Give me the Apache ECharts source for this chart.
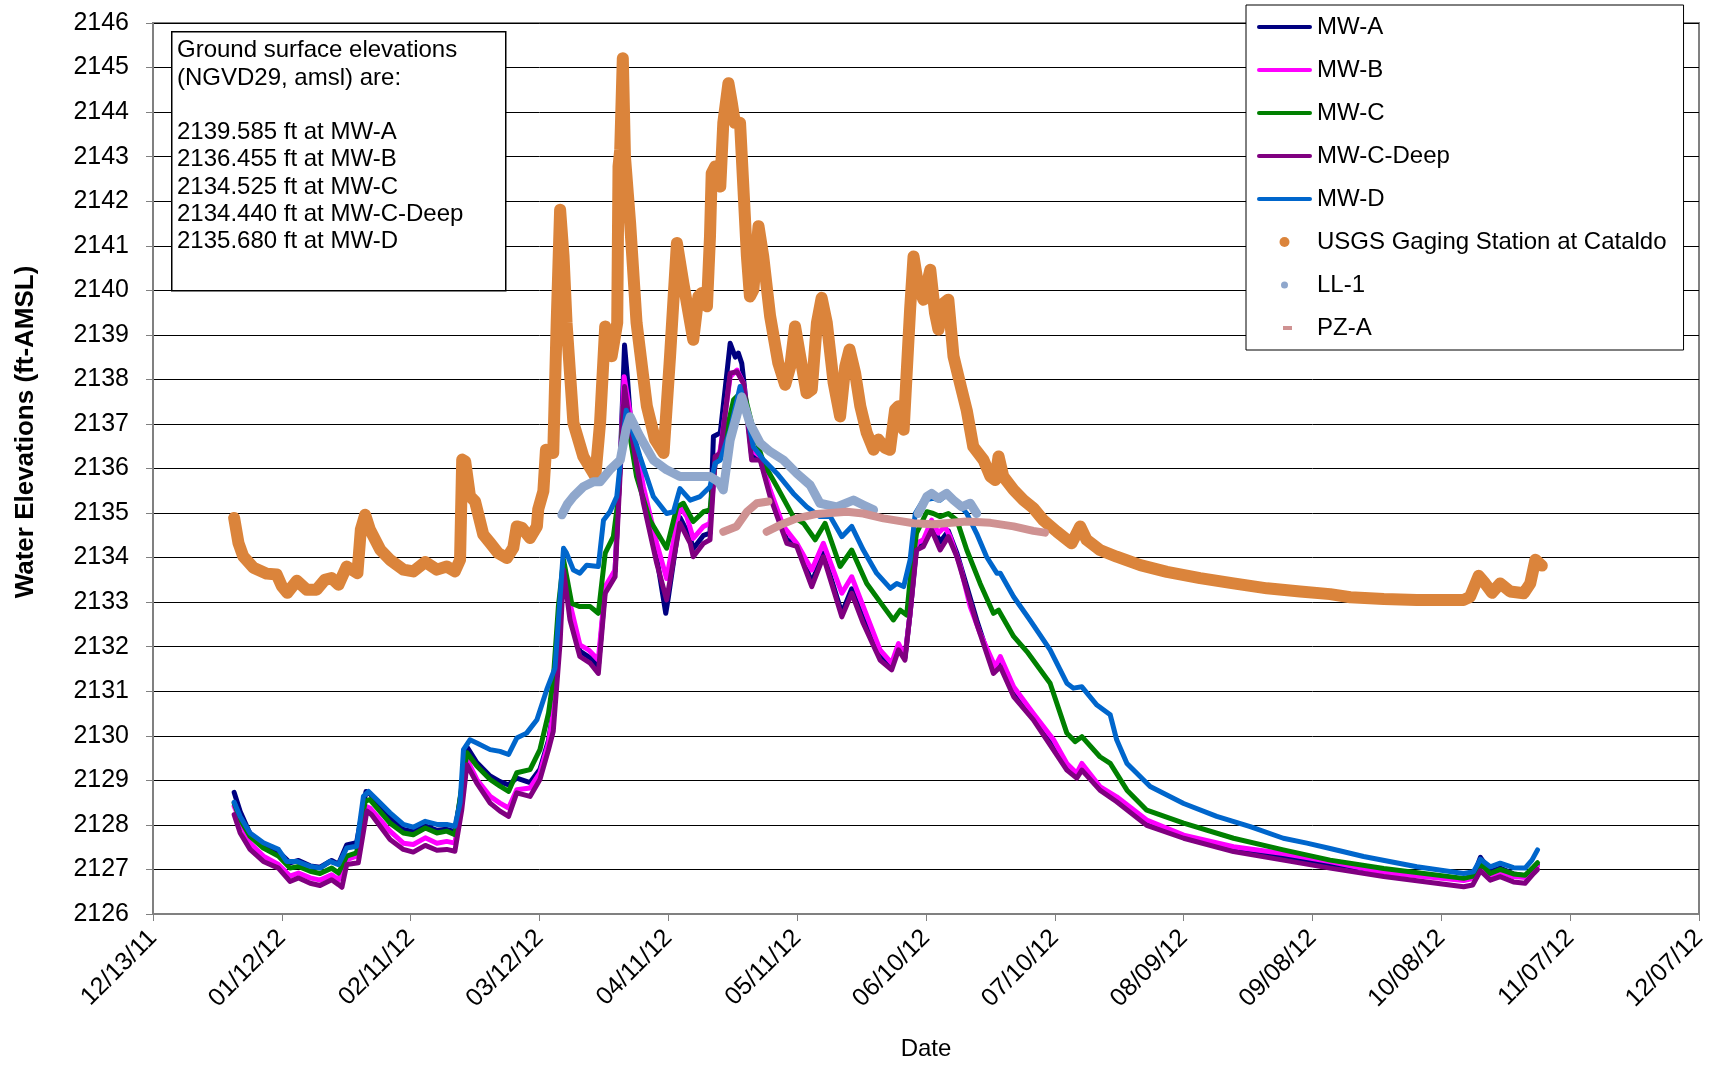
<!DOCTYPE html>
<html>
<head>
<meta charset="utf-8">
<script src="https://cdn.jsdelivr.net/npm/echarts@6/dist/echarts.min.js"></script>
<style>
html,body{margin:0;padding:0;background:#fff;}
#chart{width:1716px;height:1065px;}
</style>
</head>
<body>
<div id="chart"></div>
<script>
// Dates are spreadsheet date serials (40890 = 12/13/11)
const X_MIN = 40890, X_MAX = 41250, X_STEP = 30;
const Y_MIN = 2126, Y_MAX = 2146, Y_STEP = 1;

const SERIES_NAMES = ['MW-A','MW-B','MW-C','MW-C-Deep','MW-D','USGS Gaging Station at Cataldo','LL-1','PZ-A'];
const WELLS = ['MW-A','MW-B','MW-C','MW-C-Deep','MW-D'];
const GROUND_ELEV = ['2139.585','2136.455','2134.525','2134.440','2135.680'];

const MW_A = [[40908.9,2128.73],[40910.3,2128.30],[40912.6,2127.80],[40915.7,2127.55],[40919.2,2127.40],[40921.9,2127.15],[40923.9,2127.20],[40926.6,2127.08],[40928.9,2127.05],[40931.6,2127.20],[40933.2,2127.12],[40935.1,2127.55],[40937.4,2127.60],[40939.6,2128.75],[40940.5,2128.70],[40945.2,2128.15],[40948.3,2127.90],[40950.6,2127.85],[40953.4,2127.98],[40956.1,2127.88],[40958.4,2127.90],[40960.3,2127.85],[40961.9,2128.80],[40963.1,2129.75],[40965.4,2129.40],[40968.5,2129.10],[40970.8,2128.97],[40972.8,2128.90],[40974.7,2129.05],[40977.8,2128.95],[40980.1,2129.25],[40982.1,2129.90],[40983.2,2130.55],[40984.6,2132.30],[40985.6,2133.80],[40987.1,2132.80],[40989.4,2131.90],[40991.8,2131.75],[40993.7,2131.55],[40995.3,2133.30],[40997.6,2133.70],[40998.9,2136.40],[40999.8,2138.77],[41000.5,2138.00],[41001.1,2137.20],[41004.2,2135.40],[41007.3,2134.00],[41009.4,2132.75],[41010.0,2133.10],[41012.7,2134.90],[41015.1,2134.45],[41015.8,2134.20],[41018.2,2134.50],[41019.7,2134.55],[41020.5,2136.72],[41022.1,2136.80],[41024.4,2138.81],[41025.6,2138.50],[41026.3,2138.59],[41027.1,2138.36],[41028.0,2137.60],[41029.4,2136.30],[41031.4,2136.22],[41033.7,2135.45],[41037.6,2134.40],[41039.9,2134.30],[41043.4,2133.45],[41046.1,2134.10],[41050.4,2132.75],[41052.7,2133.30],[41055.4,2132.62],[41059.3,2131.80],[41062.0,2131.55],[41063.6,2132.00],[41065.1,2131.75],[41066.3,2132.75],[41067.8,2134.25],[41069.4,2134.35],[41071.3,2134.75],[41073.3,2134.35],[41075.2,2134.60],[41077.2,2134.10],[41079.5,2133.35],[41081.8,2132.60],[41085.7,2131.45],[41087.3,2131.65],[41090.4,2130.95],[41095.0,2130.40],[41099.7,2129.75],[41102.8,2129.30],[41105.1,2129.10],[41106.3,2129.30],[41110.5,2128.82],[41114.4,2128.56],[41121.4,2128.05],[41130.0,2127.73],[41141.6,2127.45],[41153.2,2127.30],[41164.1,2127.12],[41176.6,2126.96],[41195.2,2126.78],[41197.5,2126.85],[41199.1,2127.27],[41201.4,2126.95],[41203.7,2127.03],[41206.8,2126.90],[41209.5,2126.86],[41211.5,2127.02],[41212.4,2127.10]];

const MW_B = [[40908.9,2128.42],[40912.6,2127.59],[40915.7,2127.30],[40919.2,2127.11],[40921.9,2126.85],[40923.9,2126.92],[40926.6,2126.81],[40928.9,2126.76],[40931.6,2126.88],[40933.2,2126.77],[40935.1,2127.22],[40937.4,2127.30],[40939.4,2128.42],[40940.5,2128.38],[40945.2,2127.86],[40948.3,2127.59],[40950.6,2127.56],[40953.4,2127.71],[40956.1,2127.59],[40958.4,2127.63],[40960.3,2127.59],[40961.9,2128.49],[40963.1,2129.47],[40965.4,2129.02],[40968.5,2128.64],[40970.8,2128.49],[40972.8,2128.38],[40974.7,2128.79],[40977.8,2128.83],[40980.1,2129.17],[40982.1,2129.84],[40983.2,2130.51],[40984.4,2132.00],[40985.6,2133.87],[40987.1,2132.97],[40989.4,2132.04],[40991.4,2131.93],[40993.7,2131.70],[40995.3,2133.35],[40997.6,2133.72],[40998.8,2136.12],[40999.7,2138.06],[41001.1,2137.24],[41004.2,2135.59],[41007.3,2134.32],[41009.6,2133.53],[41012.7,2135.14],[41014.3,2134.92],[41015.8,2134.43],[41018.2,2134.70],[41019.7,2134.77],[41020.9,2136.12],[41022.1,2136.42],[41024.4,2138.06],[41026.0,2138.21],[41027.5,2137.91],[41029.4,2136.42],[41031.4,2136.27],[41033.7,2135.52],[41036.8,2134.70],[41039.9,2134.32],[41043.4,2133.72],[41046.1,2134.32],[41050.4,2133.20],[41052.7,2133.57],[41055.4,2132.90],[41059.3,2131.93],[41062.0,2131.63],[41063.6,2132.07],[41065.1,2131.78],[41066.3,2132.75],[41067.8,2134.32],[41069.4,2134.40],[41071.3,2134.84],[41072.9,2134.55],[41074.4,2134.70],[41075.6,2134.47],[41078.0,2133.80],[41080.3,2132.90],[41082.6,2132.30],[41086.1,2131.55],[41087.3,2131.78],[41090.4,2131.10],[41095.0,2130.50],[41099.7,2129.91],[41102.8,2129.38],[41105.1,2129.16],[41106.3,2129.38],[41110.5,2128.86],[41114.4,2128.63],[41121.4,2128.11],[41130.0,2127.77],[41141.6,2127.51],[41153.2,2127.36],[41164.1,2127.18],[41176.6,2126.93],[41195.2,2126.75],[41197.5,2126.80],[41199.3,2127.05],[41201.4,2126.86],[41203.7,2126.95],[41206.8,2126.84],[41209.5,2126.82],[41211.5,2127.00],[41212.4,2127.08]];

const MW_C = [[40908.9,2128.49],[40910.3,2128.12],[40912.6,2127.74],[40915.7,2127.48],[40919.2,2127.30],[40921.9,2127.03],[40923.9,2127.07],[40926.6,2126.96],[40928.9,2126.91],[40931.6,2127.03],[40933.2,2126.92],[40935.1,2127.30],[40937.4,2127.37],[40939.4,2128.53],[40940.5,2128.57],[40945.2,2128.04],[40948.3,2127.82],[40950.6,2127.78],[40953.4,2127.93],[40956.1,2127.82],[40958.4,2127.86],[40960.3,2127.78],[40961.9,2128.87],[40963.1,2129.62],[40965.4,2129.32],[40968.5,2129.02],[40970.8,2128.87],[40972.8,2128.75],[40974.7,2129.17],[40977.8,2129.24],[40980.1,2129.69],[40982.1,2130.51],[40983.2,2131.26],[40984.4,2132.91],[40985.6,2133.95],[40987.5,2132.97],[40989.4,2132.90],[40991.8,2132.90],[40993.7,2132.75],[40995.3,2134.10],[40997.2,2134.47],[40998.4,2135.37],[40999.5,2137.39],[41000.7,2136.94],[41002.6,2135.82],[41005.7,2134.84],[41009.6,2134.21],[41012.0,2135.14],[41013.5,2135.22],[41015.8,2134.81],[41018.2,2135.03],[41019.7,2135.07],[41020.9,2136.12],[41022.4,2136.34],[41025.2,2137.54],[41027.5,2137.76],[41029.8,2136.86],[41032.2,2136.12],[41035.3,2135.59],[41039.1,2134.92],[41041.5,2134.77],[41044.2,2134.40],[41046.5,2134.77],[41050.0,2133.80],[41052.7,2134.17],[41056.2,2133.42],[41060.1,2132.90],[41062.4,2132.60],[41064.0,2132.82],[41065.5,2132.71],[41066.3,2133.50],[41067.8,2134.55],[41070.2,2135.03],[41071.7,2134.99],[41073.3,2134.92],[41075.2,2134.99],[41077.2,2134.84],[41079.5,2134.17],[41082.6,2133.42],[41085.7,2132.75],[41086.9,2132.82],[41090.4,2132.23],[41093.5,2131.89],[41098.9,2131.18],[41102.8,2130.06],[41104.7,2129.87],[41106.3,2129.98],[41110.5,2129.53],[41112.9,2129.38],[41116.8,2128.78],[41121.4,2128.33],[41130.0,2128.04],[41141.6,2127.70],[41153.2,2127.44],[41164.1,2127.21],[41176.6,2127.02],[41195.2,2126.80],[41197.5,2126.85],[41199.5,2127.10],[41201.4,2126.91],[41203.7,2127.00],[41206.8,2126.90],[41209.5,2126.87],[41211.5,2127.06],[41212.4,2127.15]];

const MW_C_DEEP = [[40908.9,2128.23],[40910.3,2127.82],[40912.6,2127.45],[40915.7,2127.18],[40919.2,2127.03],[40921.9,2126.73],[40923.9,2126.81],[40926.6,2126.69],[40928.9,2126.64],[40931.6,2126.77],[40933.2,2126.66],[40934.0,2126.60],[40935.1,2127.11],[40937.8,2127.15],[40939.8,2128.31],[40940.9,2128.23],[40945.2,2127.67],[40948.3,2127.45],[40950.6,2127.39],[40953.4,2127.54],[40956.1,2127.43],[40958.4,2127.45],[40960.3,2127.41],[40961.9,2128.34],[40963.1,2129.35],[40965.4,2128.94],[40968.5,2128.49],[40970.8,2128.31],[40972.8,2128.19],[40974.7,2128.72],[40977.8,2128.64],[40980.1,2129.02],[40982.1,2129.69],[40983.2,2130.10],[40984.8,2132.10],[40985.6,2133.72],[40987.1,2132.60],[40989.4,2131.78],[40991.8,2131.63],[40993.7,2131.40],[40995.3,2133.20],[40997.6,2133.57],[40998.9,2136.12],[40999.8,2137.84],[41001.1,2136.94],[41004.2,2135.22],[41007.3,2133.87],[41009.6,2133.05],[41012.7,2134.77],[41015.1,2134.32],[41015.8,2134.02],[41018.2,2134.32],[41019.7,2134.40],[41020.9,2136.27],[41022.1,2136.34],[41024.4,2138.14],[41026.0,2138.17],[41027.5,2137.91],[41029.4,2136.19],[41031.4,2136.19],[41033.7,2135.37],[41037.6,2134.32],[41039.9,2134.25],[41043.4,2133.35],[41046.1,2134.02],[41050.4,2132.67],[41052.7,2133.20],[41055.4,2132.52],[41059.3,2131.70],[41062.0,2131.48],[41063.6,2131.93],[41065.1,2131.70],[41066.3,2132.75],[41067.8,2134.17],[41069.4,2134.25],[41071.3,2134.62],[41073.3,2134.17],[41075.2,2134.47],[41077.2,2134.02],[41079.5,2133.27],[41081.8,2132.52],[41085.7,2131.40],[41087.3,2131.55],[41090.4,2130.88],[41095.0,2130.36],[41099.7,2129.68],[41102.8,2129.23],[41105.1,2129.05],[41106.3,2129.23],[41110.5,2128.78],[41114.4,2128.52],[41121.4,2127.99],[41130.0,2127.70],[41141.6,2127.40],[41153.2,2127.21],[41164.1,2127.03],[41176.6,2126.84],[41195.2,2126.61],[41197.3,2126.65],[41199.1,2126.97],[41201.4,2126.76],[41203.7,2126.84],[41206.8,2126.72],[41209.5,2126.69],[41211.5,2126.91],[41212.4,2127.00]];

const MW_D = [[40908.9,2128.51],[40910.3,2128.19],[40912.6,2127.82],[40915.7,2127.60],[40919.2,2127.45],[40921.1,2127.18],[40923.5,2127.18],[40926.6,2127.07],[40928.9,2127.03],[40931.2,2127.18],[40933.2,2127.11],[40935.1,2127.48],[40937.4,2127.52],[40939.0,2128.64],[40940.2,2128.75],[40942.1,2128.57],[40945.2,2128.27],[40948.3,2128.01],[40950.6,2127.95],[40953.4,2128.08],[40956.1,2128.01],[40958.4,2128.01],[40960.3,2127.97],[40961.5,2128.49],[40962.3,2129.69],[40963.8,2129.91],[40965.4,2129.84],[40968.5,2129.69],[40970.8,2129.65],[40972.8,2129.58],[40974.7,2129.95],[40977.0,2130.06],[40979.4,2130.36],[40981.7,2131.04],[40983.6,2131.52],[40984.8,2133.12],[40985.6,2134.21],[40986.3,2134.10],[40987.9,2133.72],[40989.4,2133.65],[40991.0,2133.83],[40993.7,2133.80],[40994.9,2134.84],[40996.4,2135.03],[40998.0,2135.37],[40999.2,2136.49],[41000.2,2137.31],[41001.1,2137.01],[41003.4,2136.27],[41006.5,2135.37],[41009.6,2134.99],[41011.2,2135.03],[41012.7,2135.55],[41015.1,2135.29],[41017.4,2135.37],[41019.7,2135.59],[41020.9,2136.12],[41022.1,2136.19],[41024.4,2136.86],[41026.7,2137.84],[41027.9,2137.39],[41029.8,2136.49],[41032.2,2136.19],[41035.3,2135.89],[41039.1,2135.44],[41042.2,2135.14],[41045.3,2134.92],[41047.7,2134.92],[41050.4,2134.47],[41052.7,2134.70],[41055.4,2134.17],[41058.5,2133.65],[41061.7,2133.31],[41063.2,2133.42],[41064.8,2133.35],[41066.3,2133.95],[41067.5,2134.99],[41069.4,2135.29],[41071.7,2135.33],[41073.3,2135.29],[41075.2,2135.44],[41077.5,2135.22],[41079.5,2134.99],[41081.8,2134.54],[41084.1,2134.02],[41086.5,2133.65],[41087.3,2133.65],[41090.4,2133.12],[41094.2,2132.60],[41098.9,2131.93],[41102.8,2131.18],[41104.3,2131.07],[41106.3,2131.10],[41109.8,2130.69],[41112.9,2130.47],[41114.4,2129.91],[41116.8,2129.38],[41122.2,2128.86],[41130.0,2128.48],[41137.7,2128.19],[41145.5,2127.96],[41153.2,2127.70],[41158.7,2127.59],[41164.1,2127.47],[41171.9,2127.29],[41184.3,2127.06],[41195.2,2126.91],[41197.5,2126.95],[41199.1,2127.23],[41201.4,2127.06],[41203.7,2127.14],[41206.8,2127.04],[41209.5,2127.03],[41211.1,2127.21],[41212.4,2127.44]];

const USGS = [[40908.9,2134.89],[40909.9,2134.33],[40911.0,2134.03],[40913.4,2133.77],[40916.5,2133.64],[40918.8,2133.62],[40920.0,2133.36],[40921.3,2133.21],[40923.5,2133.48],[40925.8,2133.28],[40928.1,2133.28],[40930.0,2133.50],[40931.6,2133.54],[40933.2,2133.39],[40935.1,2133.80],[40937.6,2133.65],[40938.4,2134.63],[40939.4,2134.96],[40940.5,2134.63],[40942.9,2134.18],[40945.2,2133.95],[40948.3,2133.73],[40950.6,2133.69],[40953.4,2133.90],[40956.1,2133.73],[40958.4,2133.80],[40960.3,2133.69],[40961.5,2133.95],[40962.0,2136.20],[40962.7,2136.16],[40963.8,2135.38],[40965.0,2135.26],[40966.9,2134.52],[40968.5,2134.33],[40970.4,2134.10],[40972.4,2133.99],[40973.9,2134.22],[40974.7,2134.70],[40975.9,2134.67],[40977.8,2134.44],[40979.4,2134.70],[40979.7,2135.08],[40980.9,2135.49],[40981.5,2136.42],[40983.2,2136.35],[40984.0,2139.27],[40984.8,2141.81],[40985.6,2140.76],[40986.3,2139.27],[40987.9,2137.02],[40990.2,2136.27],[40993.0,2135.82],[40994.1,2137.02],[40995.3,2139.19],[40996.8,2138.52],[40998.1,2139.27],[40998.4,2142.78],[40998.8,2143.16],[40999.4,2145.21],[40999.9,2143.00],[41001.1,2141.51],[41002.6,2139.27],[41005.0,2137.40],[41006.9,2136.65],[41008.9,2136.35],[41010.4,2138.52],[41012.0,2141.06],[41013.5,2140.16],[41015.8,2138.89],[41017.0,2139.86],[41017.8,2139.94],[41019.0,2139.64],[41019.7,2141.21],[41020.1,2142.63],[41020.9,2142.78],[41022.1,2142.33],[41022.8,2143.76],[41024.0,2144.65],[41024.8,2144.20],[41025.5,2143.76],[41026.7,2143.76],[41027.5,2142.26],[41028.3,2140.76],[41029.0,2139.86],[41029.8,2140.01],[41031.0,2141.44],[41032.1,2140.76],[41033.7,2139.42],[41035.6,2138.37],[41037.2,2137.88],[41038.4,2138.29],[41039.5,2139.19],[41040.7,2138.52],[41042.2,2137.69],[41043.4,2137.77],[41044.6,2139.27],[41045.7,2139.83],[41046.9,2139.27],[41048.5,2137.92],[41050.0,2137.17],[41051.2,2138.29],[41052.2,2138.67],[41053.5,2138.14],[41054.7,2137.40],[41056.2,2136.80],[41057.8,2136.42],[41058.9,2136.65],[41060.5,2136.46],[41061.6,2136.42],[41062.8,2137.32],[41063.6,2137.40],[41064.8,2136.87],[41065.5,2138.14],[41066.3,2139.57],[41067.1,2140.76],[41068.2,2140.09],[41069.4,2139.79],[41071.0,2140.46],[41072.1,2139.49],[41072.9,2139.12],[41074.1,2139.71],[41075.2,2139.79],[41076.4,2138.52],[41077.9,2137.92],[41079.5,2137.30],[41081.0,2136.49],[41083.4,2136.19],[41085.0,2135.82],[41086.1,2135.74],[41086.9,2136.27],[41088.0,2135.82],[41090.4,2135.52],[41092.7,2135.29],[41095.0,2135.11],[41097.3,2134.84],[41100.5,2134.58],[41103.9,2134.32],[41105.9,2134.70],[41107.4,2134.40],[41110.5,2134.17],[41114.4,2134.02],[41119.9,2133.83],[41126.1,2133.68],[41133.8,2133.54],[41141.6,2133.42],[41149.4,2133.31],[41157.1,2133.24],[41164.1,2133.18],[41168.8,2133.11],[41176.6,2133.07],[41184.3,2133.05],[41195.2,2133.05],[41196.7,2133.12],[41198.7,2133.59],[41200.2,2133.42],[41201.8,2133.21],[41203.7,2133.42],[41206.0,2133.24],[41209.2,2133.20],[41210.7,2133.42],[41211.9,2133.95],[41213.4,2133.82]];

const LL_1 = [[40985.2,2134.96],[40986.5,2135.20],[40987.9,2135.37],[40990.2,2135.59],[40992.5,2135.70],[40994.1,2135.70],[40996.4,2135.97],[40998.8,2136.19],[41000.2,2136.90],[41001.1,2137.16],[41003.4,2136.72],[41006.5,2136.19],[41009.6,2135.97],[41012.7,2135.82],[41016.6,2135.82],[41019.7,2135.82],[41021.7,2135.70],[41022.8,2135.52],[41024.4,2136.64],[41027.1,2137.61],[41029.0,2137.01],[41031.4,2136.57],[41033.7,2136.38],[41036.8,2136.19],[41039.9,2135.89],[41043.0,2135.63],[41045.3,2135.22],[41049.2,2135.14],[41053.1,2135.29],[41055.4,2135.18],[41057.8,2135.07],[41063.0,null],[41068.2,2134.99],[41070.2,2135.37],[41071.3,2135.44],[41072.9,2135.33],[41074.8,2135.44],[41076.4,2135.29],[41078.3,2135.14],[41080.3,2135.22],[41081.8,2134.99]];

const PZ_A = [[41022.8,2134.58],[41025.9,2134.70],[41028.3,2135.03],[41030.6,2135.22],[41033.3,2135.26],[41033.3,null],[41032.9,2134.58],[41036.0,2134.73],[41039.9,2134.88],[41044.6,2134.98],[41051.6,2135.03],[41055.4,2134.99],[41060.1,2134.88],[41067.1,2134.77],[41071.7,2134.75],[41079.5,2134.81],[41085.0,2134.78],[41090.4,2134.70],[41095.0,2134.60],[41097.7,2134.56]];

const COLORS = ['#000080','#FF00FF','#008000','#800080','#0066CC','#DB843B','#8FA7CC','#CF9292'];
const FONT = '"Liberation Sans", Arial, Helvetica, sans-serif';

function serialToLabel(v) {
  const d = new Date(Date.UTC(1899, 11, 30) + Math.round(v) * 86400000);
  const p = n => String(n).padStart(2, '0');
  return p(d.getUTCMonth() + 1) + '/' + p(d.getUTCDate()) + '/' + p(d.getUTCFullYear() % 100);
}

const DATA = [MW_A, MW_B, MW_C, MW_C_DEEP, MW_D, USGS, LL_1, PZ_A];
const WIDTHS = [5, 5, 5, 5, 5, 12, 9, 8];

const series = SERIES_NAMES.map((name, i) => ({
  name: name,
  type: 'line',
  data: DATA[i],
  showSymbol: false,
  symbol: 'none',
  connectNulls: false,
  color: COLORS[i],
  lineStyle: { color: COLORS[i], width: WIDTHS[i], cap: 'round', join: 'round' },
  emphasis: { disabled: true },
  animation: false,
  z: 2 + i
}));

const LINE_ICON = 'path://M0,0M55,10M2,3L53,3A2,2 0 0,1 53,7L2,7A2,2 0 0,1 2,3Z';
const legendData = SERIES_NAMES.map((name, i) => {
  let icon = LINE_ICON;
  if (i === 5) icon = 'circle';
  if (i === 6) icon = 'path://M0,0M55,10M24,5A3.5,3.5 0 1,1 31,5A3.5,3.5 0 1,1 24,5Z';
  if (i === 7) icon = 'path://M0,0M55,10M26,3L35,3L35,7L26,7Z';
  return { name: name, icon: icon, itemStyle: { color: COLORS[i], borderWidth: 0 } };
});

const boxText = ['Ground surface elevations', '(NGVD29, amsl) are:', '']
  .concat(WELLS.map((w, i) => GROUND_ELEV[i] + ' ft at ' + w)).join('\n');

const chart = echarts.init(document.getElementById('chart'), null, { renderer: 'canvas', width: 1716, height: 1065 });
chart.setOption({
  animation: false,
  backgroundColor: '#ffffff',
  textStyle: { fontFamily: FONT },
  grid: { left: 153, right: 17, top: 23, bottom: 151, show: true, borderColor: '#808080', borderWidth: 2 },
  xAxis: {
    type: 'value', min: X_MIN, max: X_MAX, interval: X_STEP,
    axisLine: { show: true, onZero: false, lineStyle: { color: '#808080', width: 2 } },
    axisTick: { show: true, length: 7, lineStyle: { color: '#808080', width: 1 } },
    splitLine: { show: false },
    axisLabel: { rotate: 45, margin: 20, fontSize: 25, color: '#000', fontFamily: FONT, formatter: serialToLabel, showMinLabel: true, showMaxLabel: true }
  },
  yAxis: {
    type: 'value', min: Y_MIN, max: Y_MAX, interval: Y_STEP,
    axisLine: { show: true, lineStyle: { color: '#808080', width: 2 } },
    axisTick: { show: true, length: 7, lineStyle: { color: '#808080', width: 1 } },
    splitLine: { show: true, lineStyle: { color: '#000', width: 1 } },
    axisLabel: { margin: 24, fontSize: 25, color: '#000', fontFamily: FONT, formatter: v => String(v) }
  },
  legend: {
    orient: 'vertical', left: 1246, top: 5,
    itemWidth: 55, itemHeight: 10, itemGap: 19,
    padding: [10, 17, 10, 11],
    backgroundColor: '#fff', borderColor: '#000', borderWidth: 1,
    textStyle: { fontSize: 24, color: '#000', fontFamily: FONT, lineHeight: 24 },
    data: legendData,
    selectedMode: false
  },
  graphic: [
    { type: 'rect', left: 171, top: 31, z: 100,
      shape: { width: 334, height: 259 },
      style: { fill: '#fff', stroke: '#000', lineWidth: 1.5 } },
    { type: 'text', left: 177, top: 37, z: 101,
      style: { text: boxText, font: '24px ' + FONT, lineHeight: 27.3, fill: '#000' } },
    { type: 'text', x: 26, y: 432, rotation: Math.PI / 2, z: 101,
      style: { text: 'Water Elevations (ft-AMSL)', font: 'bold 26px ' + FONT, fill: '#000', align: 'center', verticalAlign: 'middle', textAlign: 'center', textVerticalAlign: 'middle' } },
    { type: 'text', x: 926, y: 1049, z: 101,
      style: { text: 'Date', font: '24px ' + FONT, fill: '#000', align: 'center', verticalAlign: 'middle', textAlign: 'center', textVerticalAlign: 'middle' } }
  ],
  series: series
});
</script>
</body>
</html>
